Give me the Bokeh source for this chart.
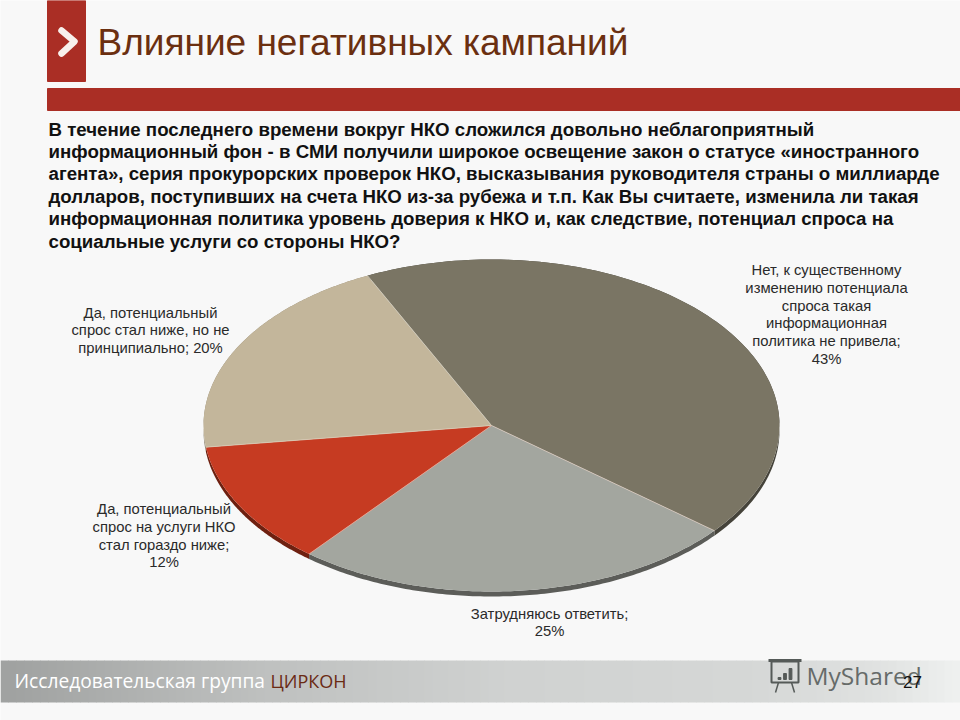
import numpy as np
from bokeh.core.properties import value
from bokeh.plotting import figure
from bokeh.embed import file_html
from bokeh.resources import INLINE

TITLE = "Влияние негативных кампаний"
QUESTION_LINES = [
    "В течение последнего времени вокруг НКО сложился довольно неблагоприятный",
    "информационный фон - в СМИ получили широкое освещение закон о статусе «иностранного",
    "агента», серия прокурорских проверок НКО, высказывания руководителя страны о миллиарде",
    "долларов, поступивших на счета НКО из-за рубежа и т.п. Как Вы считаете, изменила ли такая",
    "информационная политика уровень доверия к НКО и, как следствие, потенциал спроса на",
    "социальные услуги со стороны НКО?",
]
categories = ["Нет", "Затрудняюсь", "Да, гораздо ниже", "Да, ниже"]
values = [43, 25, 12, 20]
top_colors = ["#7a7564", "#a3a69f", "#c63b22", "#c3b69b"]
side_colors = ["#45433a", "#5c5d59", "#6e2010", "#8f8570"]
label_lines = [
    ["Нет, к существенному", "изменению потенциала", "спроса такая", "информационная", "политика не привела;", "43%"],
    ["Затрудняюсь ответить;", "25%"],
    ["Да, потенциальный", "спрос на услуги НКО", "стал гораздо ниже;", "12%"],
    ["Да, потенциальный", "спрос стал ниже, но не", "принципиально; 20%"],
]
label_centers = [(826, 269.5), (549, 613), (163.5, 508.5), (150, 312)]

SANS = value("Liberation Sans")
OPEN = value("Open Sans")

W, H = 960, 720
p = figure(width=W, height=H, x_range=(0, 960), y_range=(720, 0), output_backend="svg",
           toolbar_location=None, min_border=0, background_fill_color="#f8f8f8",
           border_fill_color="#f8f8f8", outline_line_color=None)
p.axis.visible = False
p.grid.visible = False

# header
p.quad(left=47, right=85, top=0, bottom=81, color="#aa2e25")
p.multi_line([[61, 74, 61]], [[30, 41, 53]], line_color="#f8f0ec", line_width=6.5,
             line_cap="round", line_join="round")
p.quad(left=47, right=960, top=88, bottom=110, color="#aa2e25")
p.text([97], [41.5], [TITLE], text_font=SANS, text_font_size="37px",
       text_color="#6b2f10", text_baseline="middle")

# question
q_y = [128.5, 151, 173, 195.5, 218, 240.5]
p.text([48] * 6, q_y, QUESTION_LINES, text_font=SANS, text_font_style="bold",
       text_font_size="18.7px", text_color="#111111", text_baseline="middle")

# pie
CX, CY, RX, RY, DEPTH, START = 491, 425, 288, 166, 5, 115.5
fr = np.array(values) / sum(values)
edges = START - np.concatenate([[0], np.cumsum(fr)]) * 360


def arc(a0, a1):
    t = np.radians(np.linspace(a0, a1, 120))
    return CX + RX * np.cos(t), CY - RY * np.sin(t)


for i in range(len(values)):
    x, y = arc(edges[i], edges[i + 1])
    p.patch(np.concatenate([x, x[::-1]]), np.concatenate([y, y[::-1] + DEPTH]),
            color=side_colors[i], line_width=0)
for i in range(len(values)):
    x, y = arc(edges[i], edges[i + 1])
    p.patch(np.concatenate([[CX], x]), np.concatenate([[CY], y]), color=top_colors[i], line_width=0)
for e, col in zip(edges[:-1], ["#cfcabb", "#d8c8bc", "#e8a898", "#d8cdb8"]):
    x, y = arc(e, e)
    p.line([CX, x[0]], [CY, y[0]], line_color=col, line_width=0.8)

# labels
LH = 17.8
for lines, (cx, y0) in zip(label_lines, label_centers):
    p.text([cx] * len(lines), [y0 + k * LH for k in range(len(lines))], lines,
           text_font=SANS, text_font_size="14.8px", text_color="#2a2a2a",
           text_align="center", text_baseline="middle")

# footer gradient
stops_x = [0, 250, 500, 750, 880, 960]
stops_v = [160, 190, 208, 214, 225, 240]
xs = np.linspace(0, 960, 121)
shade = np.interp(xs, stops_x, stops_v).astype(int)
cols = ["#%02x%02x%02x" % (s, s + 2, s + 1) for s in shade]
p.quad(left=xs[:-1], right=xs[1:] + 0.5, top=660, bottom=702, color=cols[:-1], line_width=0)
p.text([14], [680], ["Исследовательская группа"], text_font=OPEN, text_font_size="19.2px",
       text_color="#ffffff", text_baseline="middle")
p.text([270], [680], ["ЦИРКОН"], text_font=OPEN, text_font_size="18px",
       text_color="#6a2a14", text_baseline="middle")

# watermark
p.quad(left=771, right=798, top=661, bottom=682, fill_color=None, line_color="#555a58", line_width=2)
p.line([768, 801], [660, 660], line_color="#555a58", line_width=3)
p.multi_line([[778, 775], [791, 794]], [[682, 692], [682, 692]], line_color="#555a58", line_width=1.5)
p.vbar(x=[779, 784.5, 790], width=2.8, top=[677, 673, 668], bottom=[679, 679, 679], color="#555a58")
p.text([806], [675], ["MyShared"], text_font=OPEN, text_font_size="24.5px",
       text_color="#666b69", text_baseline="middle")
p.text([912], [681], ["27"], text_font=SANS, text_font_size="17px",
       text_color="#111111", text_align="center", text_baseline="middle")

open("out.html", "w").write(file_html(p, INLINE))
